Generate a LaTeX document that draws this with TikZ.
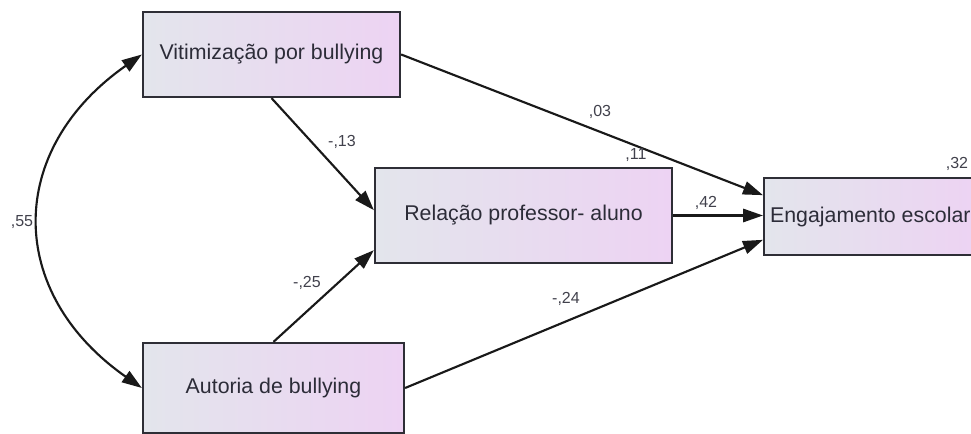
\documentclass[tikz,border=0pt]{standalone}
\usepackage{fontspec}
\setmainfont{Liberation Sans}
\usetikzlibrary{arrows.meta}
\definecolor{boxleft}{HTML}{E3E5EC}
\definecolor{boxright}{HTML}{EDD3F3}
\definecolor{ink}{HTML}{2C2C38}
\definecolor{edge}{HTML}{2E2E36}

\tikzset{
  var/.style={draw=edge, line width=1.7pt, left color=boxleft, right color=boxright,
    text=ink, font=\fontsize{16}{19}\selectfont, inner sep=4.5pt},
  link/.style={-{Triangle[length=15pt,width=10pt]}, line width=1.6pt, draw=black!90},
  coef/.style={font=\fontsize{12}{14}\selectfont, text=ink!90, inner sep=0pt}
}

\begin{document}
\begin{tikzpicture}[x=0.75pt, y=0.75pt]
          \clip (0,0) rectangle (971,434);

          % Observed variables
          \node[var, minimum width=192.75pt, minimum height=63.75pt] (vit) at (271.5,379.5) {Vitimização por bullying};
          \node[var, minimum width=222.75pt, minimum height=71.25pt] (rel) at (523.5,218.5) {Relação professor- aluno};
          \node[var, minimum width=195.75pt, minimum height=67.5pt] (aut) at (273.5,46) {Autoria de bullying};
          \node[var, minimum height=57.75pt, anchor=west] (eng) at (763,217.5) {Engajamento escolar};

          % Regression paths
          \draw[link] (vit.south) -- ([yshift=4pt]rel.west);
          \draw[link] (aut.north) -- ([yshift=-26pt]rel.west);
          \draw[link] (vit.east) -- ([yshift=16pt]eng.west);
          \draw[link] (rel.east) -- (rel.east -| eng.west);
          \draw[link] (aut.east) -- ([yshift=-17.5pt]eng.west);

          % Covariance
          \draw[link, {Triangle[length=15pt,width=10pt]}-{Triangle[length=15pt,width=10pt]}]
            (vit.west) to[out=215, in=145, looseness=1.28] (aut.west);

          % Coefficients
          \node[coef] (c55) at (22,212) {,55};
          \node[coef] (c13) at (342,292) {-,13};
          \node[coef] (c25) at (307,151) {-,25};
          \node[coef] (c03) at (600,322) {,03};
          \node[coef] (c11) at (636,279) {,11};
          \node[coef] (c42) at (706,231) {,42};
          \node[coef] (c24) at (566,135) {-,24};
          \node[coef] (c32) at (957,270) {,32};
        \end{tikzpicture}
\end{document}
